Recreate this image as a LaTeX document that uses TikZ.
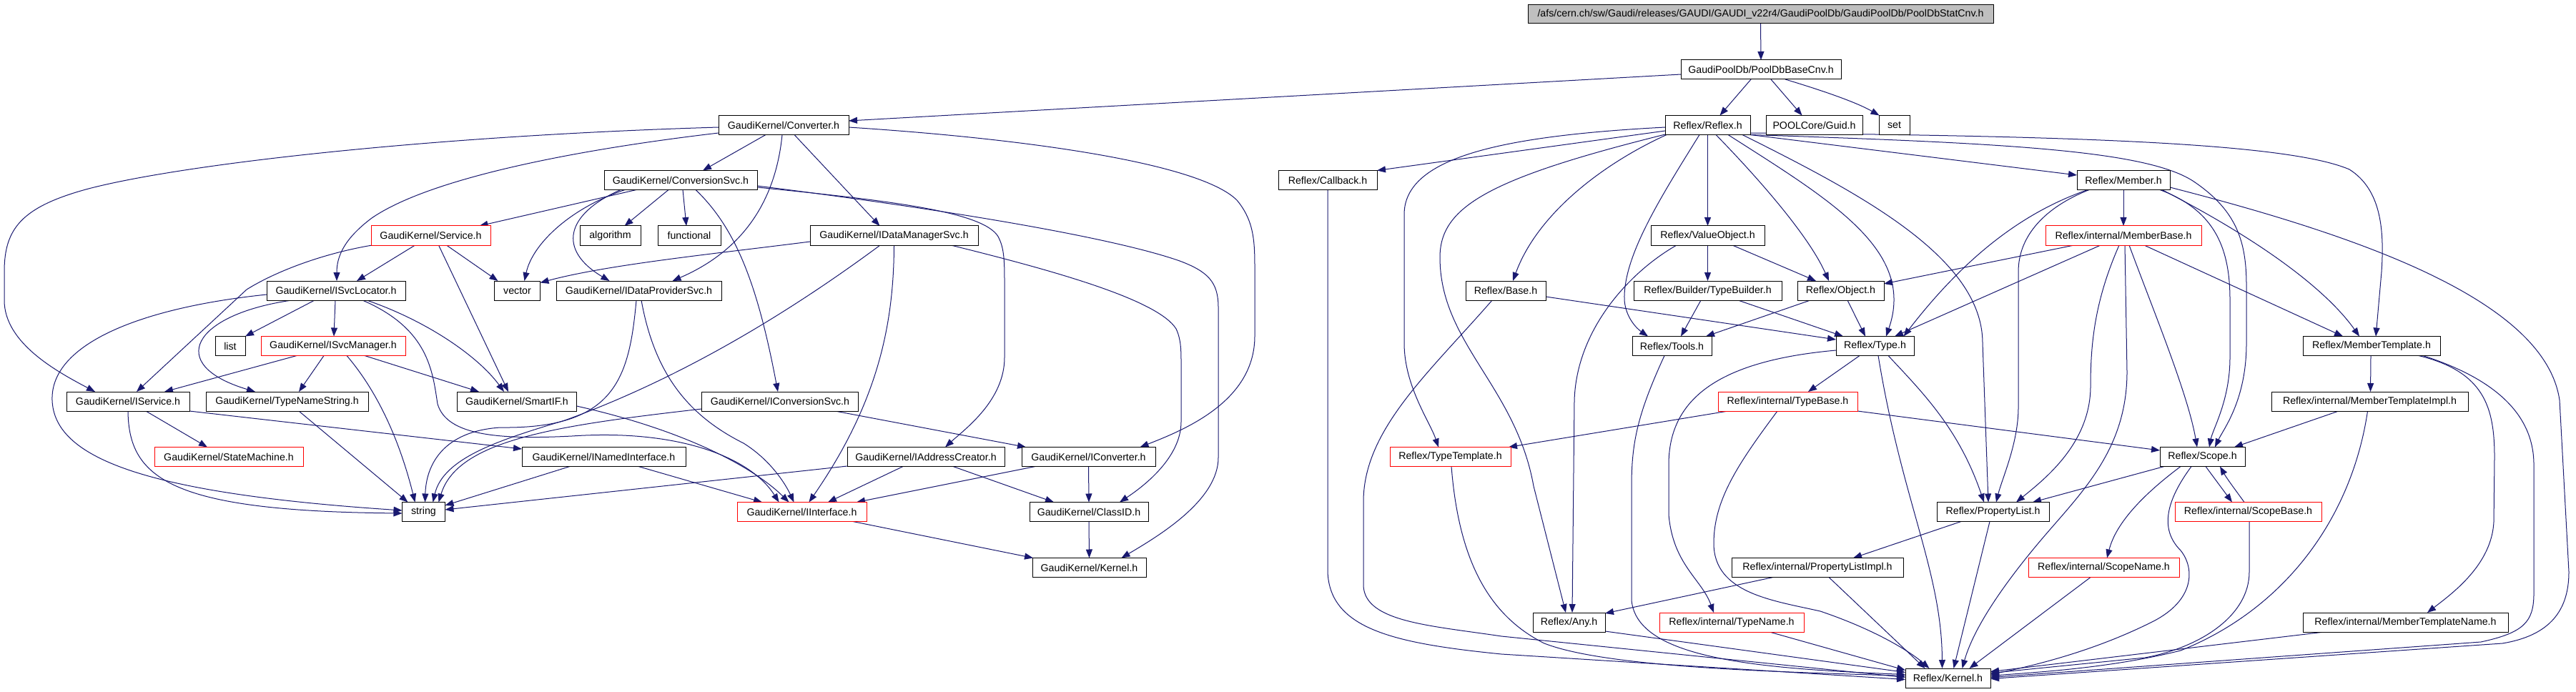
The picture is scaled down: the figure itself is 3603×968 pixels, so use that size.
\documentclass[tikz,border=0pt]{standalone}
\usepackage{fontspec}
\setmainfont{Liberation Sans}
\usetikzlibrary{arrows.meta}
\definecolor{edgeblue}{HTML}{191970}
\definecolor{rootgray}{HTML}{BFBFBF}
\pgfdeclarelayer{bg}
\pgfsetlayers{bg,main}
\begin{document}
\begin{tikzpicture}[x=1pt,y=-1pt,
  box/.style={draw=black, line width=1pt, fill=white, minimum height=27pt, inner sep=0pt, outer sep=0pt, font=\fontsize{14.2pt}{17pt}\selectfont},
  redbox/.style={box, draw=red},
  dep/.style={draw=edgeblue, line width=1pt, -{Triangle[length=12pt,width=9pt]}}]
\useasboundingbox (0,0) rectangle (3603,968);
% nodes
\node[box,fill=rootgray,minimum width=651pt,minimum height=26pt] (root) at (2462.5,20) {/afs/cern.ch/sw/Gaudi/releases/GAUDI/GAUDI\_v22r4/GaudiPoolDb/GaudiPoolDb/PoolDbStatCnv.h};
\node[box,minimum width=224pt] (pdbc) at (2463,97.5) {GaudiPoolDb/PoolDbBaseCnv.h};
\node[box,minimum width=182pt] (conv) at (1096,175) {GaudiKernel/Converter.h};
\node[box,minimum width=119pt] (reflex) at (2388.5,175) {Reflex/Reflex.h};
\node[box,minimum width=135pt] (guid) at (2537.5,175) {POOLCore/Guid.h};
\node[box,minimum width=43pt] (set) at (2649.5,175) {set};
\node[box,minimum width=214pt] (convsvc) at (952,252) {GaudiKernel/ConversionSvc.h};
\node[box,minimum width=138pt] (callback) at (1857,252) {Reflex/Callback.h};
\node[box,minimum width=130pt] (member) at (2970,252) {Reflex/Member.h};
\node[redbox,minimum width=167pt] (service) at (602.5,329.5) {GaudiKernel/Service.h};
\node[box,minimum width=85pt] (algorithm) at (853.5,329.5) {algorithm};
\node[box,minimum width=88pt] (functional) at (964,329.5) {functional};
\node[box,minimum width=235pt] (idms) at (1250.5,329.5) {GaudiKernel/IDataManagerSvc.h};
\node[box,minimum width=159pt] (valueobj) at (2388.5,329.5) {Reflex/ValueObject.h};
\node[redbox,minimum width=218pt] (memberbase) at (2970,329.5) {Reflex/internal/MemberBase.h};
\node[box,minimum width=194pt] (isvcloc) at (470,406.5) {GaudiKernel/ISvcLocator.h};
\node[box,minimum width=64pt] (vector) at (723.5,406.5) {vector};
\node[box,minimum width=231pt] (idps) at (893.5,406.5) {GaudiKernel/IDataProviderSvc.h};
\node[box,minimum width=112pt] (base) at (2106,406.5) {Reflex/Base.h};
\node[box,minimum width=207pt] (typebuilder) at (2388.5,406.5) {Reflex/Builder/TypeBuilder.h};
\node[box,minimum width=121pt] (object) at (2574.5,406.5) {Reflex/Object.h};
\node[box,minimum width=42pt] (list) at (322,484) {list};
\node[redbox,minimum width=202pt] (isvcmgr) at (466,484) {GaudiKernel/ISvcManager.h};
\node[box,minimum width=111pt] (tools) at (2338.5,484) {Reflex/Tools.h};
\node[box,minimum width=109pt] (type) at (2622.5,484) {Reflex/Type.h};
\node[box,minimum width=192pt] (mtemplate) at (3317,484) {Reflex/MemberTemplate.h};
\node[box,minimum width=172pt] (iservice) at (179,561.5) {GaudiKernel/IService.h};
\node[box,minimum width=227pt] (tns) at (401.5,561.5) {GaudiKernel/TypeNameString.h};
\node[box,minimum width=167pt] (smartif) at (723,561.5) {GaudiKernel/SmartIF.h};
\node[box,minimum width=219pt] (iconvsvc) at (1091,561.5) {GaudiKernel/IConversionSvc.h};
\node[redbox,minimum width=195pt] (typebase) at (2500.5,561.5) {Reflex/internal/TypeBase.h};
\node[box,minimum width=275pt] (mtimpl) at (3314.5,561.5) {Reflex/internal/MemberTemplateImpl.h};
\node[redbox,minimum width=208pt] (statemachine) at (320,639) {GaudiKernel/StateMachine.h};
\node[box,minimum width=229pt] (inamed) at (844.5,639) {GaudiKernel/INamedInterface.h};
\node[box,minimum width=220pt] (iaddr) at (1295,639) {GaudiKernel/IAddressCreator.h};
\node[box,minimum width=187pt] (iconverter) at (1522.5,639) {GaudiKernel/IConverter.h};
\node[redbox,minimum width=169pt] (typetemplate) at (2028.5,639) {Reflex/TypeTemplate.h};
\node[box,minimum width=119pt] (scope) at (3080.5,639) {Reflex/Scope.h};
\node[box,minimum width=60pt] (string) at (592.5,716) {string};
\node[redbox,minimum width=181pt] (iinterface) at (1121.5,716) {GaudiKernel/IInterface.h};
\node[box,minimum width=166pt] (classid) at (1523,716) {GaudiKernel/ClassID.h};
\node[box,minimum width=157pt] (plist) at (2787.5,716) {Reflex/PropertyList.h};
\node[redbox,minimum width=205pt] (scopebase) at (3144.5,716) {Reflex/internal/ScopeBase.h};
\node[box,minimum width=159pt] (gkkernel) at (1523.5,794) {GaudiKernel/Kernel.h};
\node[box,minimum width=240pt] (plimpl) at (2542,794) {Reflex/internal/PropertyListImpl.h};
\node[redbox,minimum width=211pt] (scopename) at (2942.5,794) {Reflex/internal/ScopeName.h};
\node[box,minimum width=101pt] (any) at (2194.5,870.5) {Reflex/Any.h};
\node[redbox,minimum width=202pt] (typename) at (2422,870.5) {Reflex/internal/TypeName.h};
\node[box,minimum width=287pt] (mtname) at (3364.5,870.5) {Reflex/internal/MemberTemplateName.h};
\node[box,minimum width=119pt] (rkernel) at (2724.5,948.5) {Reflex/Kernel.h};

\begin{pgfonlayer}{bg}
\fill[white] (0,0) rectangle (3603,968);
% top
\draw[dep] (root.south) -- (pdbc.north);
\draw[dep] ([yshift=-6.5pt]pdbc.west) -- ([yshift=6pt]conv.east);
\draw[dep] ([xshift=-14pt]pdbc.south) -- ([xshift=17pt]reflex.north);
\draw[dep] ([xshift=14pt]pdbc.south) -- ([xshift=-17pt]guid.north);
\draw[dep] ([xshift=34pt]pdbc.south) .. controls (2560,130) and (2600,145) .. ([xshift=-21pt]set.north);
% Converter
\draw[dep] ([xshift=-25pt]conv.south) -- ([xshift=31pt]convsvc.north);
\draw[dep] ([xshift=-2pt]conv.south) .. controls (1085,280) and (1040,350) .. ([xshift=47pt]idps.north);
\draw[dep] ([xshift=15pt]conv.south) -- ([xshift=-20pt]idms.north);
\draw[dep] ([yshift=-3pt]conv.west) .. controls (600,190) and (250,230) .. (120,265) .. controls (30,290) and (6,320) .. (6,380) -- (6,420) .. controls (6,480) and (80,520) .. ([xshift=-46pt]iservice.north);
\draw[dep] ([yshift=-11pt]conv.west) .. controls (800,210) and (600,250) .. (520,305) .. controls (480,335) and (471,360) .. ([xshift=1pt]isvcloc.north);
\draw[dep] ([yshift=-3pt]conv.east) .. controls (1450,195) and (1680,230) .. (1730,280) .. controls (1755,310) and (1755,340) .. (1755,380) -- (1755,470) .. controls (1755,560) and (1660,600) .. ([xshift=72pt]iconverter.north);
% ConversionSvc
\draw[dep] ([xshift=-62pt]convsvc.south) -- ([xshift=68pt]service.north);
\draw[dep] ([xshift=-78pt]convsvc.south) .. controls (800,290) and (745,340) .. ([xshift=10pt]vector.north);
\draw[dep] ([xshift=-84pt]convsvc.south) .. controls (790,300) and (780,350) .. ([xshift=-41pt]idps.north);
\draw[dep] ([xshift=-17pt]convsvc.south) -- ([xshift=20pt]algorithm.north);
\draw[dep] ([xshift=3pt]convsvc.south) -- ([xshift=-4pt]functional.north);
\draw[dep] ([xshift=21pt]convsvc.south) .. controls (1030,320) and (1060,400) .. ([xshift=-3pt]iconvsvc.north);
\draw[dep] ([yshift=-10pt]convsvc.east) .. controls (1260,282) and (1385,298) .. (1398,335) .. controls (1405,350) and (1405,370) .. (1405,400) -- (1405,500) .. controls (1405,560) and (1350,600) .. ([xshift=27pt]iaddr.north);
\draw[dep] ([yshift=-8pt]convsvc.east) .. controls (1300,290) and (1550,330) .. (1650,365) .. controls (1690,380) and (1704,395) .. (1704,430) -- (1704,640) .. controls (1704,700) and (1620,750) .. ([xshift=45pt]gkkernel.north);
% Service
\draw[dep] ([xshift=-22pt]service.south) -- ([xshift=29pt]isvcloc.north);
\draw[dep] ([xshift=-82pt]service.south) .. controls (450,355) and (385,380) .. (345,405) -- ([xshift=12pt]iservice.north);
\draw[dep] ([xshift=22pt]service.south) -- ([xshift=-27pt]vector.north);
\draw[dep] ([xshift=11pt]service.south) -- ([xshift=-12pt]smartif.north);
% IDataManagerSvc
\draw[dep] ([yshift=-8.5pt]idms.west) .. controls (1000,355) and (850,370) .. ([yshift=11pt]vector.east);
\draw[dep] ([xshift=-19.5pt]idms.south) .. controls (1100,440) and (950,530) .. (790,588) .. controls (700,615) and (620,640) .. ([xshift=13pt]string.north);
\draw[dep] (idms.south) .. controls (1250,450) and (1230,560) .. ([xshift=10pt]iinterface.north);
\draw[dep] ([xshift=79.5pt]idms.south) .. controls (1480,380) and (1620,420) .. (1645,460) .. controls (1652,475) and (1652,490) .. (1652,510) -- (1652,590) .. controls (1652,640) and (1600,680) .. ([xshift=43pt]classid.north);
% IDataProviderSvc
\draw[dep] ([xshift=-3.5pt]idps.south) .. controls (880,530) and (860,600) .. (700,598) .. controls (620,603) and (596,650) .. ([xshift=2pt]string.north);
\draw[dep] ([xshift=3.5pt]idps.south) .. controls (915,520) and (960,580) .. (1040,620) .. controls (1080,645) and (1100,680) .. ([xshift=-11pt]iinterface.north);
% ISvcLocator
\draw[dep] ([yshift=-5.5pt]isvcloc.west) .. controls (200,430) and (70,480) .. (73,560) .. controls (76,640) and (200,690) .. ([yshift=2pt]string.west);
\draw[dep] ([xshift=-62pt]isvcloc.south) .. controls (270,440) and (230,510) .. ([xshift=-44.5pt]tns.north);
\draw[dep] ([xshift=-30pt]isvcloc.south) -- ([xshift=21pt]list.north);
\draw[dep] ([xshift=-1pt]isvcloc.south) -- ([xshift=1pt]isvcmgr.north);
\draw[dep] ([xshift=37pt]isvcloc.south) .. controls (600,460) and (605,520) .. (612,565) .. controls (625,610) and (700,615) .. (800,610) .. controls (950,600) and (1050,640) .. ([xshift=-32pt]iinterface.north);
\draw[dep] ([xshift=43pt]isvcloc.south) .. controls (600,450) and (670,500) .. ([xshift=-18pt]smartif.north);
% ISvcManager
\draw[dep] ([xshift=-51pt]isvcmgr.south) -- ([xshift=51pt]iservice.north);
\draw[dep] ([xshift=-13pt]isvcmgr.south) -- ([xshift=16.5pt]tns.north);
\draw[dep] ([xshift=19pt]isvcmgr.south) .. controls (530,550) and (560,620) .. ([xshift=-12pt]string.north);
\draw[dep] ([xshift=44pt]isvcmgr.south) -- ([xshift=-53pt]smartif.north);
% IService
\draw[dep] (iservice.south) .. controls (180,670) and (240,715) .. ([yshift=-2pt]string.west);
\draw[dep] ([xshift=25pt]iservice.south) -- ([xshift=-30pt]statemachine.north);
\draw[dep] ([yshift=-13.5pt]iservice.east) -- ([yshift=11pt]inamed.west);
\draw[dep] ([xshift=16.5pt]tns.south) -- ([xshift=-22pt]string.north);
% SmartIF, INamedInterface
\draw[dep] ([yshift=-6.5pt]smartif.east) .. controls (950,600) and (1050,650) .. ([xshift=-18pt]iinterface.north);
\draw[dep] ([xshift=-47.5pt]inamed.south) -- ([yshift=9pt]string.east);
\draw[dep] ([xshift=48.5pt]inamed.south) -- ([xshift=-55.5pt]iinterface.north);
% IConversionSvc, IAddressCreator, IConverter
\draw[dep] ([yshift=-10.5pt]iconvsvc.west) .. controls (780,595) and (640,615) .. ([xshift=21pt]string.north);
\draw[dep] ([xshift=77pt]iconvsvc.south) -- ([xshift=-87.5pt]iconverter.north);
\draw[dep] ([yshift=-13pt]iaddr.west) -- ([yshift=3pt]string.east);
\draw[dep] ([xshift=-32pt]iaddr.south) -- ([xshift=36.5pt]iinterface.north);
\draw[dep] ([xshift=38pt]iaddr.south) -- ([xshift=-49pt]classid.north);
\draw[dep] ([xshift=-74.5pt]iconverter.south) -- ([xshift=76.5pt]iinterface.north);
\draw[dep] (iconverter.south) -- (classid.north);
\draw[dep] (classid.south) -- (gkkernel.north);
\draw[dep] ([xshift=71.5pt]iinterface.south) -- ([xshift=-78.5pt]gkkernel.north);
% Reflex
\draw[dep] ([yshift=-8pt]reflex.west) -- ([yshift=13.5pt]callback.east);
\draw[dep] ([yshift=-3pt]reflex.west) .. controls (2100,190) and (1964,220) .. (1964,300) -- (1964,480) .. controls (1964,540) and (2000,590) .. ([xshift=-16.5pt]typetemplate.north);
\draw[dep] ([yshift=-13pt]reflex.west) .. controls (2080,250) and (2014,290) .. (2014,360) .. controls (2014,480) and (2120,540) .. (2145,680) -- ([xshift=-4.5pt]any.north);
\draw[dep] ([xshift=-57.5pt]reflex.south) .. controls (2240,230) and (2150,300) .. ([xshift=10pt]base.north);
\draw[dep] ([xshift=-11.5pt]reflex.south) .. controls (2320,280) and (2270,360) .. (2272,420) .. controls (2274,445) and (2290,460) .. ([xshift=-33.5pt]tools.north);
\draw[dep] (reflex.south) -- (valueobj.north);
\draw[dep] ([xshift=11.5pt]reflex.south) .. controls (2460,250) and (2530,330) .. ([xshift=-16.5pt]object.north);
\draw[dep] ([xshift=28.5pt]reflex.south) .. controls (2560,280) and (2680,350) .. ([xshift=15.5pt]type.north);
\draw[dep] ([xshift=48.5pt]reflex.south) .. controls (2600,270) and (2773,360) .. (2773,480) -- ([xshift=-6.5pt]plist.north);
\draw[dep] ([yshift=-13.5pt]reflex.east) .. controls (2800,200) and (3000,210) .. (3067,253) .. controls (3130,295) and (3142,340) .. (3142,400) -- (3142,480) .. controls (3142,560) and (3110,600) .. ([xshift=17.5pt]scope.north);
\draw[dep] ([yshift=-11pt]reflex.east) .. controls (2900,190) and (3200,200) .. (3286,237) .. controls (3330,265) and (3335,320) .. (3331,380) -- ([xshift=6pt]mtemplate.north);
\draw[dep] ([yshift=-13.5pt]reflex.east) -- ([yshift=7pt]member.west);
% Member
\draw[dep] (member.south) -- (memberbase.north);
\draw[dep] ([xshift=-50pt]member.south) .. controls (2820,300) and (2740,370) .. ([xshift=40pt]type.north);
\draw[dep] ([xshift=-48pt]member.south) .. controls (2860,290) and (2823,330) .. (2823,380) -- (2823,570) .. controls (2823,620) and (2800,670) .. ([xshift=4.5pt]plist.north);
\draw[dep] ([xshift=51pt]member.south) .. controls (3100,295) and (3119,350) .. (3119,420) -- (3119,500) .. controls (3119,560) and (3095,600) .. ([xshift=9.5pt]scope.north);
\draw[dep] ([xshift=54pt]member.south) .. controls (3150,330) and (3250,400) .. ([xshift=-17pt]mtemplate.north);
\draw[dep] ([yshift=-10pt]member.east) .. controls (3300,330) and (3560,420) .. (3580,560) -- (3593,800) .. controls (3593,860) and (3560,890) .. (3500,900) -- ([yshift=-1pt]rkernel.east);
% MemberBase
\draw[dep] ([xshift=-69pt]memberbase.south) -- ([yshift=9.5pt]object.east);
\draw[dep] ([xshift=-32pt]memberbase.south) -- ([xshift=27.5pt]type.north);
\draw[dep] ([xshift=-6pt]memberbase.south) .. controls (2930,420) and (2924,480) .. (2924,540) .. controls (2924,620) and (2860,670) .. ([xshift=32.5pt]plist.north);
\draw[dep] ([xshift=2pt]memberbase.south) -- (2975,520) .. controls (2975,630) and (2910,690) .. (2855,755) .. controls (2800,820) and (2760,880) .. ([xshift=20pt]rkernel.north);
\draw[dep] ([xshift=8pt]memberbase.south) .. controls (3010,430) and (3060,550) .. ([xshift=-7.5pt]scope.north);
\draw[dep] ([xshift=29pt]memberbase.south) -- ([xshift=-40pt]mtemplate.north);
% MemberTemplate
\draw[dep] ([xshift=-1pt]mtemplate.south) -- ([xshift=1pt]mtimpl.north);
\draw[dep] ([xshift=66pt]mtemplate.south) .. controls (3475,520) and (3489,570) .. (3489,640) -- (3488,730) .. controls (3485,790) and (3430,830) .. ([xshift=30.5pt]mtname.north);
\draw[dep] ([xshift=72pt]mtemplate.south) .. controls (3490,530) and (3544,580) .. (3544,650) -- (3544,830) .. controls (3544,870) and (3530,885) .. (3470,898) -- ([yshift=1pt]rkernel.east);
\draw[dep] ([xshift=-43.5pt]mtimpl.south) -- ([xshift=44.5pt]scope.north);
\draw[dep] ([xshift=-3pt]mtimpl.south) .. controls (3290,720) and (3200,850) .. (3050,910) .. controls (2950,935) and (2850,940) .. ([yshift=3pt]rkernel.east);
\draw[dep] ([xshift=-113.5pt]mtname.south) -- ([yshift=9pt]rkernel.east);
% Scope
\draw[dep] ([xshift=-53.5pt]scope.south) -- ([xshift=55.5pt]plist.north);
\draw[dep] ([xshift=-30.5pt]scope.south) .. controls (3000,690) and (2960,730) .. ([xshift=4.5pt]scopename.north);
\draw[dep] ([xshift=-15.5pt]scope.south) .. controls (3030,700) and (3020,740) .. (3050,770) .. controls (3070,795) and (3070,840) .. (3010,870) .. controls (2930,910) and (2850,930) .. ([yshift=5pt]rkernel.east);
\draw[dep] ([xshift=4.5pt]scope.south) -- ([xshift=-22.5pt]scopebase.north);
\draw[dep] ([xshift=-5.5pt]scopebase.north) .. controls (3130,690) and (3115,670) .. ([xshift=24.5pt]scope.south);
\draw[dep] ([xshift=1.5pt]scopebase.south) -- (3146,800) .. controls (3146,860) and (3080,905) .. (3000,920) -- ([yshift=7pt]rkernel.east);
\draw[dep] ([xshift=-18.5pt]scopename.south) -- ([xshift=30pt]rkernel.north);
% PropertyList
\draw[dep] ([xshift=-44.5pt]plist.south) -- ([xshift=50pt]plimpl.north);
\draw[dep] ([xshift=-4.5pt]plist.south) -- ([xshift=8pt]rkernel.north);
% Type
\draw[dep] ([yshift=-6pt]type.west) .. controls (2400,505) and (2334,560) .. (2334,650) -- (2334,720) .. controls (2340,790) and (2380,810) .. ([xshift=-25pt]typename.north);
\draw[dep] ([xshift=-21.5pt]type.south) -- ([xshift=28.5pt]typebase.north);
\draw[dep] ([xshift=4.5pt]type.south) .. controls (2660,700) and (2716,800) .. ([xshift=-8pt]rkernel.north);
\draw[dep] ([xshift=18.5pt]type.south) .. controls (2690,550) and (2740,600) .. ([xshift=-12.5pt]plist.north);
% TypeBase
\draw[dep] ([xshift=-83.5pt]typebase.south) -- ([xshift=81.5pt]typetemplate.north);
\draw[dep] ([xshift=-14.5pt]typebase.south) .. controls (2430,650) and (2397,700) .. (2397,760) .. controls (2397,830) and (2480,840) .. (2546,855) .. controls (2620,880) and (2670,910) .. ([xshift=-26pt]rkernel.north);
\draw[dep] ([yshift=-13.5pt]typebase.east) -- ([yshift=9pt]scope.west);
% Tools, TypeTemplate, Callback, Base
\draw[dep] ([xshift=-10.5pt]tools.south) .. controls (2290,580) and (2282,620) .. (2282,680) -- (2282,840) .. controls (2290,920) and (2450,935) .. ([yshift=5pt]rkernel.west);
\draw[dep] ([xshift=1.5pt]typetemplate.south) .. controls (2040,780) and (2080,860) .. (2160,900) .. controls (2250,935) and (2500,940) .. ([yshift=3pt]rkernel.west);
\draw[dep] (callback.south) -- (1857,800) .. controls (1860,880) and (1950,900) .. (2100,915) -- ([yshift=-2pt]rkernel.west);
\draw[dep] ([yshift=-8.5pt]base.east) -- ([yshift=9pt]type.west);
\draw[dep] ([xshift=-19pt]base.south) .. controls (2000,520) and (1908,600) .. (1907,700) -- (1907,820) .. controls (1910,870) and (2000,875) .. (2100,890) -- ([yshift=1pt]rkernel.west);
% ValueObject
\draw[dep] (valueobj.south) -- (typebuilder.north);
\draw[dep] ([xshift=34.5pt]valueobj.south) -- ([xshift=-34.5pt]object.north);
\draw[dep] ([xshift=-43.5pt]valueobj.south) .. controls (2280,380) and (2205,460) .. (2202,560) -- ([xshift=4.5pt]any.north);
% TypeBuilder, Object
\draw[dep] ([xshift=-9.5pt]typebuilder.south) -- ([xshift=12.5pt]tools.north);
\draw[dep] ([xshift=42.5pt]typebuilder.south) -- ([xshift=-44.5pt]type.north);
\draw[dep] ([xshift=-42.5pt]object.south) -- ([xshift=47.5pt]tools.north);
\draw[dep] ([xshift=9.5pt]object.south) -- ([xshift=-13.5pt]type.north);
% Any, TypeName, PropertyListImpl
\draw[dep] ([yshift=-12.5pt]any.east) -- ([yshift=8pt]rkernel.west);
\draw[dep] ([xshift=53pt]typename.south) -- ([yshift=11pt]rkernel.west);
\draw[dep] ([xshift=-62pt]plimpl.south) -- ([yshift=12.5pt]any.east);
\draw[dep] ([xshift=16pt]plimpl.south) -- ([xshift=-32pt]rkernel.north);
\end{pgfonlayer}
\end{tikzpicture}
\end{document}
